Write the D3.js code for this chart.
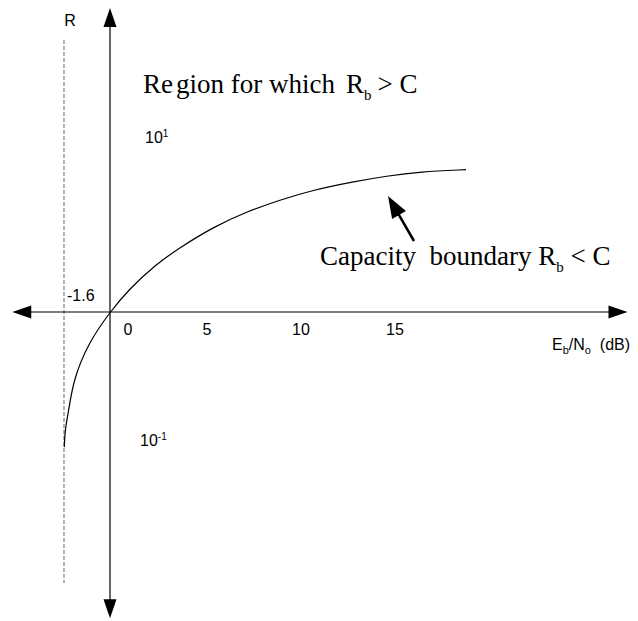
<!DOCTYPE html>
<html>
<head>
<meta charset="utf-8">
<script src="https://cdn.jsdelivr.net/npm/d3@7"></script>
<style>
  html, body { margin: 0; padding: 0; background: #fff; }
  .sans { font-family: "Liberation Sans", Arial, sans-serif; font-size: 16px; fill: #000; }
  .serif { font-family: "Liberation Serif", "Times New Roman", serif; font-size: 27px; fill: #000; }
</style>
</head>
<body>
<svg id="chart" width="638" height="621"></svg>
<script>
// capacity boundary: Eb/No (dB) and normalised rate R
const ebno = [-1.59, -1.565, -1.45, -1.277, -0.755, 0, 0.637, 1.565, 2.435, 3.593, 4.755, 5.913, 7.071, 8.463, 9.624, 10.783, 12.383];
const rate = [0.169, 0.212, 0.265, 0.409, 0.665, 1, 1.336, 1.856, 2.337, 3.06, 3.742, 4.365, 4.98, 5.555, 5.986, 6.336, 6.504];
const xTicks = [0, 5, 10, 15];
const shannonLimit = -1.6;
const xExtent = [-3.4, 18.0];
const yExtent = [0.0178, 54.6];
const limitExtent = [0.0283, 35.8];

const svg = d3.select('#chart');
const xScale = d3.scaleLinear().domain([shannonLimit, 0]).range([64, 110]);
const yScale = d3.scaleLog().domain([1, 10]).range([312, 137]);
// tick labels sit on their own (uneven) spacing in the figure
const labelScale = d3.scaleLinear().domain([0, 5, 15]).range([128, 207, 395]);

function arrowHead(x, y, dir, len, half) {
    const p = d3.path();
    const [dx, dy] = dir;
    const bx = x - dx * len, by = y - dy * len;
    p.moveTo(x, y);
    p.lineTo(bx - dy * half, by + dx * half);
    p.lineTo(bx + dy * half, by - dx * half);
    p.closePath();
    return p.toString();
}

const x0 = xScale(0), y0 = yScale(1);

// Shannon limit dashed line
svg.append('line')
    .attr('x1', xScale(shannonLimit)).attr('x2', xScale(shannonLimit))
    .attr('y1', yScale(limitExtent[1])).attr('y2', yScale(limitExtent[0]))
    .attr('stroke', '#808080').attr('stroke-width', 1.2)
    .attr('stroke-dasharray', '4,2');

// axes
const xl = xScale(xExtent[0]), xr = xScale(xExtent[1]);
const yt = yScale(yExtent[1]), yb = yScale(yExtent[0]);
svg.append('line').attr('x1', xl + 10).attr('x2', xr - 10).attr('y1', y0).attr('y2', y0)
    .attr('stroke', '#000').attr('stroke-width', 1.2);
svg.append('line').attr('x1', x0).attr('x2', x0).attr('y1', yt + 10).attr('y2', yb - 10)
    .attr('stroke', '#000').attr('stroke-width', 1.2);

const heads = [
    [xl, y0, [-1, 0]], [xr, y0, [1, 0]],
    [x0, yt, [0, -1]], [x0, yb, [0, 1]],
];
svg.selectAll('.head').data(heads).enter().append('path')
    .attr('class', 'head')
    .attr('d', d => arrowHead(d[0], d[1], d[2], 19, 6.5))
    .attr('fill', '#000');

// capacity curve
const curveData = ebno.map((e, i) => ({ e, r: rate[i] }));
svg.append('path')
    .datum(curveData)
    .attr('fill', 'none')
    .attr('stroke', '#000')
    .attr('stroke-width', 1.2)
    .attr('d', d3.line().x(d => xScale(d.e)).y(d => yScale(d.r)).curve(d3.curveBasis));

// pointer arrow to the boundary
const tip = [388, 196], tail = [414, 241];
const len = Math.hypot(tail[0] - tip[0], tail[1] - tip[1]);
const dir = [(tip[0] - tail[0]) / len, (tip[1] - tail[1]) / len];
svg.append('line')
    .attr('x1', tail[0]).attr('y1', tail[1])
    .attr('x2', tip[0] - dir[0] * 12).attr('y2', tip[1] - dir[1] * 12)
    .attr('stroke', '#000').attr('stroke-width', 2.5);
svg.append('path').attr('d', arrowHead(tip[0], tip[1], dir, 22, 8)).attr('fill', '#000');

// x tick labels
svg.selectAll('.xt').data(xTicks).enter().append('text')
    .attr('class', 'sans')
    .attr('x', d => labelScale(d))
    .attr('y', y0 + 23)
    .attr('text-anchor', 'middle')
    .text(d => d);

// -1.6 label
svg.append('text').attr('class', 'sans')
    .attr('x', xScale(shannonLimit) + 3).attr('y', y0 - 11)
    .text(shannonLimit);

// axis titles
svg.append('text').attr('class', 'sans')
    .attr('x', 70).attr('y', 26)
    .attr('text-anchor', 'middle').text('R');

const xt = svg.append('text').attr('class', 'sans').attr('x', 552).attr('y', y0 + 38);
xt.append('tspan').text('E');
xt.append('tspan').attr('dy', 4).attr('font-size', 11).text('b');
xt.append('tspan').attr('dy', -4).text('/N');
xt.append('tspan').attr('dy', 4).attr('font-size', 11).text('o');
xt.append('tspan').attr('dy', -4).text('\u00a0 (dB)');

// power-of-ten labels
const p1 = svg.append('text').attr('class', 'sans').attr('x', 145).attr('y', yScale(10) + 6);
p1.append('tspan').text('10');
p1.append('tspan').attr('dy', -6).attr('font-size', 10).text('1');
const p2 = svg.append('text').attr('class', 'sans').attr('x', 140).attr('y', y0 + 134);
p2.append('tspan').text('10');
p2.append('tspan').attr('dy', -6).attr('font-size', 10).text('-1');

// region annotations
const r1 = svg.append('text').attr('class', 'serif').attr('x', 143).attr('y', 93);
r1.append('tspan').text('Re');
r1.append('tspan').attr('dx', 3).text('gion for which');
r1.append('tspan').attr('dx', 11).text('R');
r1.append('tspan').attr('dy', 7).attr('font-size', 15).text('b');
r1.append('tspan').attr('dy', -7).attr('dx', 6).text('> C');

const r2 = svg.append('text').attr('class', 'serif').attr('x', 320).attr('y', 265);
r2.append('tspan').text('Capacity\u00a0 boundary R');
r2.append('tspan').attr('dy', 7).attr('font-size', 15).text('b');
r2.append('tspan').attr('dy', -7).text(' < C');
</script>
</body>
</html>
